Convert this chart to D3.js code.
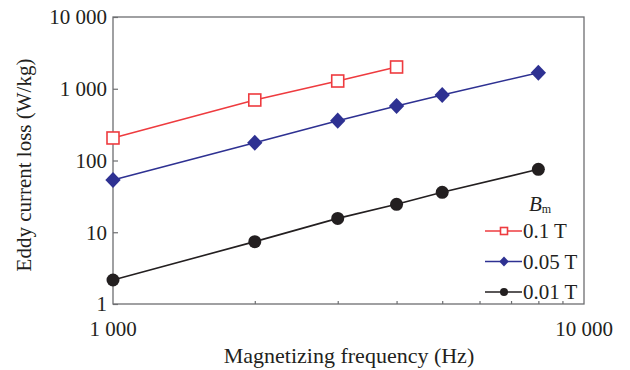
<!DOCTYPE html>
<html>
<head>
<meta charset="utf-8">
<script src="https://cdn.jsdelivr.net/npm/d3@7"></script>
<style>
  body { margin: 0; background: #fff; }
  text { font-family: "Liberation Serif", "Times New Roman", serif; fill: #231f20; }
</style>
</head>
<body>
<div id="vis"></div>
<script>
// valores
const freqs = [1000, 2000, 3000, 4000, 5000, 8000];
const loss01 = [206, 697, 1282, 2010];
const loss005 = [53.5, 177, 359, 575, 818, 1674];
const loss001 = [2.16, 7.4, 15.6, 24.5, 36, 75.4];
const seriesNames = ["0.1 T", "0.05 T", "0.01 T"];
const yTicks = [1, 10, 100, 1000, 10000];
const xTicks = [1000, 10000];
const xMinor = [2000, 3000, 4000, 5000, 6000, 7000, 8000, 9000];

const width = 630;
const height = 370;
const margin = { top: 17, right: 46, bottom: 66, left: 113 };

const svg = d3.select("#vis")
  .append("svg")
  .attr("width", width)
  .attr("height", height);

const x = d3.scaleLog()
  .domain([1000, 10000])
  .range([margin.left, width - margin.right]);

const y = d3.scaleLog()
  .domain([1, 10000])
  .range([height - margin.bottom, margin.top]);

const fmt = d => d3.format(",")(d).replace(/,/g, " ");
const axisColor = "#6d6e71";

// marco
svg.append("rect")
  .attr("x", x(1000))
  .attr("y", y(10000))
  .attr("width", x(10000) - x(1000))
  .attr("height", y(1) - y(10000))
  .attr("fill", "none")
  .attr("stroke", axisColor)
  .attr("stroke-width", 1.3);

// eje y
const yAxis = svg.append("g")
  .attr("transform", `translate(${x(1000)},0)`)
  .call(d3.axisRight(y).tickValues(yTicks).tickSize(5).tickFormat(""));
yAxis.select(".domain").remove();
yAxis.selectAll("line").attr("stroke", axisColor).attr("stroke-width", 1.2);

svg.selectAll("text.ytick")
  .data(yTicks)
  .enter()
  .append("text")
  .attr("class", "ytick")
  .attr("x", x(1000) - 6)
  .attr("y", d => y(d))
  .attr("dy", "0.35em")
  .attr("text-anchor", "end")
  .style("font-size", "21px")
  .text(fmt);

// eje x
const xAxis = svg.append("g")
  .attr("transform", `translate(0,${y(1)})`)
  .call(d3.axisTop(x).tickValues(xMinor).tickSize(3).tickFormat(""));
xAxis.select(".domain").remove();
xAxis.selectAll("line").attr("stroke", axisColor).attr("stroke-width", 1.2);

svg.selectAll("text.xtick")
  .data(xTicks)
  .enter()
  .append("text")
  .attr("class", "xtick")
  .attr("x", d => x(d))
  .attr("y", y(1) + 32)
  .attr("text-anchor", "middle")
  .style("font-size", "21px")
  .text(fmt);

// títulos
svg.append("text")
  .attr("x", 349)
  .attr("y", 363)
  .attr("text-anchor", "middle")
  .style("font-size", "22px")
  .text("Magnetizing frequency (Hz)");

svg.append("text")
  .attr("transform", `translate(31,165) rotate(-90)`)
  .attr("text-anchor", "middle")
  .style("font-size", "21px")
  .text("Eddy current loss (W/kg)");

const series = [
  { name: seriesNames[0], values: loss01, color: "#ee3b3f", shape: "square" },
  { name: seriesNames[1], values: loss005, color: "#2e3192", shape: "diamond" },
  { name: seriesNames[2], values: loss001, color: "#231f20", shape: "circle" }
];

const line = d3.line()
  .x(d => x(d[0]))
  .y(d => y(d[1]));

function marker(g, shape, color, s) {
  if (shape === "square") {
    g.append("rect")
      .attr("x", -s / 2).attr("y", -s / 2)
      .attr("width", s).attr("height", s)
      .attr("fill", "#fff")
      .attr("stroke", color)
      .attr("stroke-width", 1.6);
  } else if (shape === "diamond") {
    const h = s * 0.62;
    g.append("path")
      .attr("d", `M0,${-h}L${h * 0.95},0L0,${h}L${-h * 0.95},0Z`)
      .attr("fill", color);
  } else {
    g.append("circle").attr("r", s / 2).attr("fill", color);
  }
}

series.forEach(s => {
  const pts = s.values.map((v, i) => [freqs[i], v]);
  svg.append("path")
    .datum(pts)
    .attr("d", line)
    .attr("fill", "none")
    .attr("stroke", s.color)
    .attr("stroke-width", 1.6);

  svg.selectAll(null)
    .data(pts)
    .enter()
    .append("g")
    .attr("transform", d => `translate(${x(d[0])},${y(d[1])})`)
    .each(function () { marker(d3.select(this), s.shape, s.color, s.shape === "square" ? 12 : 13); });
});

// leyenda
const legend = svg.append("g").attr("transform", "translate(485,0)");

const bm = legend.append("text")
  .attr("x", 44)
  .attr("y", 211)
  .style("font-size", "21px");
bm.append("tspan").style("font-style", "italic").text("B");
bm.append("tspan").attr("dy", 2).style("font-size", "12px").text("m");

series.forEach((s, i) => {
  const ly = 231 + i * 30.5;
  legend.append("line")
    .attr("x1", 0).attr("x2", 37)
    .attr("y1", ly).attr("y2", ly)
    .attr("stroke", s.color)
    .attr("stroke-width", 1.6);
  const g = legend.append("g").attr("transform", `translate(19,${ly})`);
  marker(g, s.shape, s.color, s.shape === "square" ? 7 : 8);
  legend.append("text")
    .attr("x", 38)
    .attr("y", ly)
    .attr("dy", "0.35em")
    .style("font-size", "21px")
    .text(s.name);
});
</script>
</body>
</html>
